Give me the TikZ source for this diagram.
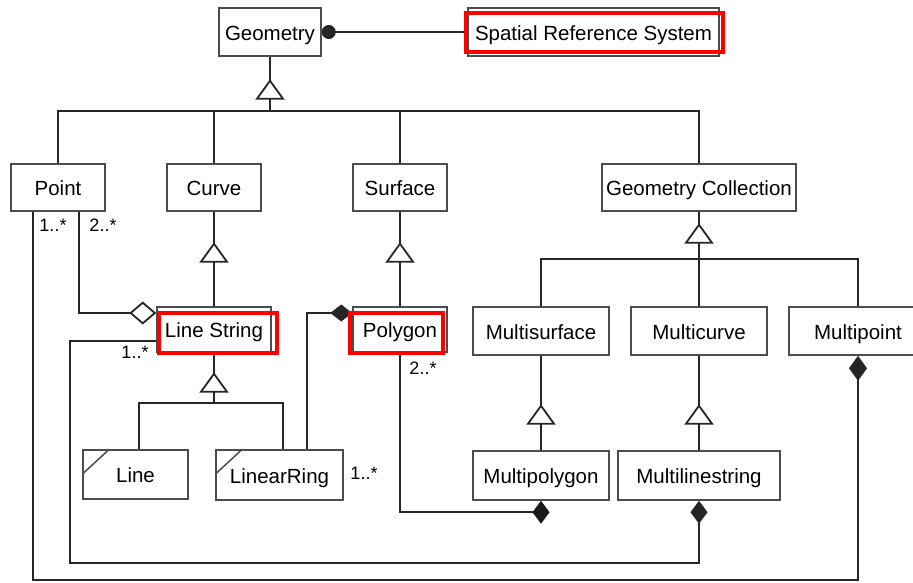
\documentclass[tikz,border=0pt]{standalone}
\usepackage{fontspec}
\setmainfont{Liberation Sans}
\usetikzlibrary{arrows.meta,calc}
\begin{document}
\begin{tikzpicture}[x=1pt,y=-1pt,
  box/.style={draw=black!70, line width=1.5pt, fill=white, inner sep=0pt, font=\fontsize{20.5}{24}\selectfont, text=black, text height=16pt, text depth=0pt},
  conn/.style={draw=black!85, line width=2.4pt},
  hl/.style={draw=red, line width=4pt},
  lbl/.style={font=\fontsize{18}{20}\selectfont, inner sep=0pt},
  slash/.style={draw=black!70, line width=1.5pt},
  gentri/.pic={\draw[black!85, line width=1.8pt, fill=white, line join=miter] (0,0) -- (-13,18) -- (13,18) -- cycle;}
]
\useasboundingbox (0,0) rectangle (913,582);

% nodes
\node[box, minimum width=102, minimum height=48] (geom) at (270,32) {Geometry};
\node[box, minimum width=251, minimum height=48] (srs) at (593.5,32) {Spatial Reference System};
\node[box, minimum width=94, minimum height=47] (point) at (58,187.5) {Point};
\node[box, minimum width=94, minimum height=47] (curve) at (214,187.5) {Curve};
\node[box, minimum width=94, minimum height=47] (surface) at (400,187.5) {Surface};
\node[box, minimum width=194, minimum height=47] (gc) at (699,187.5) {Geometry Collection};
\node[box, minimum width=114, minimum height=45] (linestring) at (214,329.5) {Line String};
\node[box, minimum width=94, minimum height=45] (polygon) at (400,329.5) {Polygon};
\node[box, minimum width=136, minimum height=48] (multisurface) at (541,331) {Multisurface};
\node[box, minimum width=136, minimum height=48] (multicurve) at (699,331) {Multicurve};
\node[box, minimum width=138, minimum height=48] (multipoint) at (858,331) {Multipoint};
\node[box, minimum width=105, minimum height=49] (line) at (135.5,474.5) {Line};
\node[box, minimum width=127, minimum height=50] (linearring) at (279.5,475) {LinearRing};
\node[box, minimum width=136, minimum height=49] (multipolygon) at (541,475.5) {Multipolygon};
\node[box, minimum width=162, minimum height=49] (multilinestring) at (699,475.5) {Multilinestring};

% corner slashes
\draw[slash] ([yshift=-25]line.north west) -- ([xshift=27]line.north west);
\draw[slash] ([yshift=-25]linearring.north west) -- ([xshift=27]linearring.north west);

% helper coordinates
\coordinate (bus1) at (270,111);
\coordinate (bus2) at (699,259);
\coordinate (bus3) at (214,403);
\coordinate (pL) at ([xshift=-25]point.south);
\coordinate (pR) at ([xshift=21]point.south);
\coordinate (bot) at (33,580);
\coordinate (lsW) at ([yshift=-11.5]linestring.west);
\coordinate (lsJ) at ([yshift=16.5]linestring.west);
\coordinate (ml) at (70,563);
\coordinate (lrT) at ([xshift=27.5]linearring.north);
\coordinate (pgW) at ([yshift=16.5]polygon.west);
\coordinate (mpL) at ([xshift=-8.5,yshift=-11.5]multipolygon.south);
\coordinate (lineT) at ([xshift=3.5]line.north);
\coordinate (lrT2) at ([xshift=3.5]linearring.north);

% generalization lines
\draw[conn] (geom.south) -- (bus1);
\draw[conn] (point.north) |- (bus1) -| (gc.north);
\draw[conn] (curve.north) -- (curve.north |- bus1);
\draw[conn] (surface.north) -- (surface.north |- bus1);
\draw[conn] (curve.south) -- (linestring.north);
\draw[conn] (surface.south) -- (polygon.north);
\draw[conn] (gc.south) -- (bus2);
\draw[conn] (multisurface.north) |- (bus2) -| (multipoint.north);
\draw[conn] (multicurve.north) -- (multicurve.north |- bus2);
\draw[conn] (multisurface.south) -- (multipolygon.north);
\draw[conn] (multicurve.south) -- (multilinestring.north);
\draw[conn] (linestring.south) -- (bus3);
\draw[conn] (lineT) |- (bus3) -| (lrT2);

% generalization triangles
\pic at ([yshift=-24]geom.south) {gentri};
\pic at ([yshift=-32]curve.south) {gentri};
\pic at ([yshift=-32]surface.south) {gentri};
\pic at ([yshift=-13]gc.south) {gentri};
\pic at ([yshift=-21]linestring.south) {gentri};
\pic at ([yshift=-50]multisurface.south) {gentri};
\pic at ([yshift=-50]multicurve.south) {gentri};

% associations
\draw[conn, {Circle[length=14pt]}-] (geom.east) -- (srs.west);
\draw[conn, -{Diamond[open, fill=white, length=27pt, width=23pt, line width=1.8pt]}] (pR) |- (lsJ);
\draw[conn, -{Diamond[length=25pt, width=18pt]}] (pL) -- (pL |- bot) -| (multipoint.south);
\draw[conn, -{Diamond[length=23pt, width=17pt]}] (lsW) -| (ml) -| (multilinestring.south);
\draw[conn, -{Diamond[length=22pt, width=17pt]}] (lrT) |- (pgW);
\draw[conn] (polygon.south) |- (mpL);
\fill[black!90] (multipolygon.south) -- ++(8.5,11.5) -- ++(-8.5,11.5) -- ++(-8.5,-11.5) -- cycle;

% multiplicities
\node[lbl] (m1) at (53,225) {1..*};
\node[lbl] (m2) at (103,225) {2..*};
\node[lbl] (m3) at (135,352) {1..*};
\node[lbl] (m4) at (423,368) {2..*};
\node[lbl] (m5) at (364,473) {1..*};

% red highlights
\draw[hl] ([xshift=-1,yshift=-6]srs.north west) rectangle ([xshift=3,yshift=5]srs.south east);
\draw[hl] ([xshift=2.5,yshift=-6.5]linestring.north west) rectangle ([xshift=5.5,yshift=-0.5]linestring.south east);
\draw[hl] ([xshift=-2,yshift=-6.5]polygon.north west) rectangle ([xshift=-4.5,yshift=-0.5]polygon.south east);
\end{tikzpicture}
\end{document}
